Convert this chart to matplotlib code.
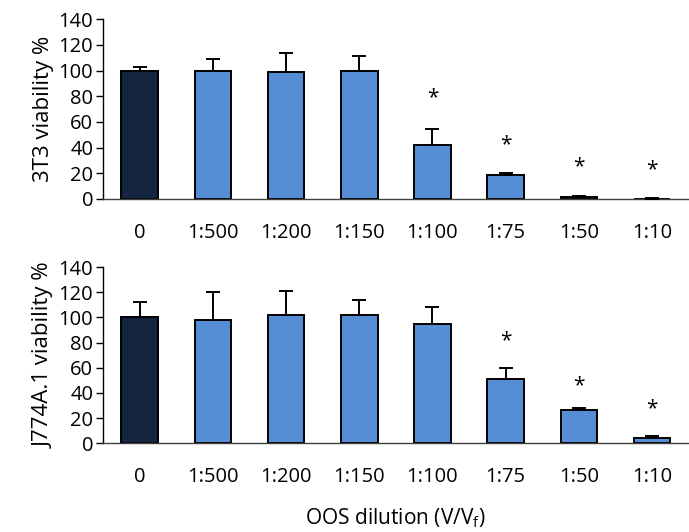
import numpy as np
import matplotlib
matplotlib.use("Agg")
import matplotlib.pyplot as plt

plt.rcParams['font.family'] = ['Open Sans', 'DejaVu Sans']

# ---------- data ----------
dilutions = ["0", "1:500", "1:200", "1:150", "1:100", "1:75", "1:50", "1:10"]

t3_mean = [100, 99.5, 98.8, 100, 42, 18.7, 1.5, 0.3]
t3_err = [2.5, 9.4, 15.2, 11.7, 12.7, 1.8, 0.5, 0.2]
t3_star = [None, None, None, None, 79, 42, 25, 23]

j774_mean = [100, 98, 102, 101.7, 95, 51, 26.1, 4]
j774_err = [12.5, 22.2, 18.7, 12.3, 13.3, 8.4, 1.9, 2]
j774_star = [None, None, None, None, None, 81.4, 46, 27.7]

dark = "#14263f"
blue = "#558ed5"


def draw_panel(ax, mean, err, star, ylabel):
    x = np.arange(len(dilutions))
    colors = [dark] + [blue] * (len(dilutions) - 1)
    ax.bar(x, mean, width=0.5, color=colors, edgecolor="black", linewidth=1.4, zorder=2)
    ax.errorbar(x, mean, yerr=[np.zeros(len(err)), err], fmt="none",
                ecolor="black", elinewidth=1.4, capsize=5, capthick=1.4, zorder=3)
    for xi, s in zip(x, star):
        if s is not None:
            ax.text(xi, s, "*", ha="center", va="center", fontsize=15)
    ax.set_xlim(-0.5, len(dilutions) - 0.5)
    ax.set_ylim(0, 140)
    ax.set_yticks(range(0, 141, 20))
    ax.set_xticks(x)
    ax.set_xticklabels(dilutions)
    ax.set_ylabel(ylabel, fontsize=16, labelpad=3)
    ax.tick_params(axis="y", labelsize=14.5, length=5, width=1, pad=2)
    ax.tick_params(axis="x", labelsize=14.5, length=0, pad=17)
    for side in ("top", "right"):
        ax.spines[side].set_visible(False)
    ax.spines["left"].set_linewidth(1)
    ax.spines["bottom"].set_linewidth(1)
    ax.spines["bottom"].set_color("#404040")


fig = plt.figure(figsize=(6.89, 5.32), dpi=100)
ax1 = fig.add_axes([0.1495, 0.626, 0.85, 0.338])
ax2 = fig.add_axes([0.1495, 0.167, 0.85, 0.331])

draw_panel(ax1, t3_mean, t3_err, t3_star, "3T3 viability %")
draw_panel(ax2, j774_mean, j774_err, j774_star, "J774A.1 viability %")
ax2.set_xlabel("OOS dilution (V/V$_\\mathregular{f}$)", fontsize=15, labelpad=14)

fig.savefig("out.png", dpi=100)
